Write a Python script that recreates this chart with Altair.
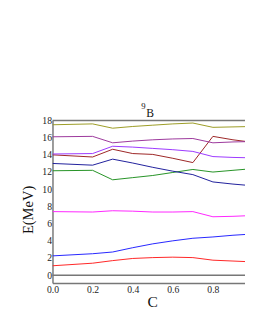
import altair as alt
import pandas as pd

c_vals = [0.0, 0.2, 0.3, 0.4, 0.5, 0.6, 0.7, 0.8, 0.9, 1.0]
series = {
    "red":     [1.1, 1.4, 1.7, 1.95, 2.05, 2.1, 2.05, 1.75, 1.65, 1.55],
    "blue":    [2.25, 2.5, 2.7, 3.2, 3.65, 4.0, 4.3, 4.45, 4.65, 4.8],
    "magenta": [7.4, 7.35, 7.5, 7.45, 7.35, 7.35, 7.4, 6.8, 6.85, 6.95],
    "green":   [12.15, 12.2, 11.1, 11.35, 11.6, 11.95, 12.3, 12.0, 12.2, 12.4],
    "navy":    [13.0, 12.8, 13.5, 13.05, 12.55, 12.1, 11.7, 10.85, 10.6, 10.4],
    "darkred": [14.0, 13.75, 14.65, 14.15, 14.05, 13.6, 13.1, 16.15, 15.75, 15.45],
    "violet":  [14.1, 14.15, 15.0, 14.9, 14.75, 14.6, 14.4, 13.8, 13.7, 13.65],
    "purple":  [16.1, 16.15, 15.4, 15.6, 15.75, 15.85, 15.9, 15.4, 15.5, 15.55],
    "olive":   [17.5, 17.6, 17.1, 17.3, 17.45, 17.6, 17.7, 17.2, 17.25, 17.3],
}
colors = {
    "red": "#ff2020", "blue": "#2020ff", "magenta": "#ff20ff",
    "green": "#209020", "navy": "#1a1a99", "darkred": "#992020",
    "violet": "#9933ff", "purple": "#993399", "olive": "#999920",
}
ref_lines = [0, 18]
x_ticks = [0.0, 0.2, 0.4, 0.6, 0.8]
y_ticks = [0, 2, 4, 6, 8, 10, 12, 14, 16, 18]
title_mass = "9"
title_elem = "B"

rows = []
for name, vals in series.items():
    for c, v in zip(c_vals, vals):
        rows.append({"C": c, "E": v, "level": name})
df = pd.DataFrame(rows)

xscale = alt.Scale(domain=[0, 0.96], nice=False, zero=False)
yscale = alt.Scale(domain=[-0.9, 18], nice=False, zero=False)

yaxis = alt.Axis(values=y_ticks, ticks=False, grid=False,
                 labelFont="Liberation Serif", labelFontSize=10, labelColor="#222",
                 labelPadding=1, labelFlush=False, labelOverlap=False,
                 domainColor="#777", domainWidth=1.5,
                 title="E(MeV)", titleFont="Liberation Serif", titleFontSize=15,
                 titleFontWeight="normal", titleColor="#111",
                 titleX=-26, titleY=92, titleAngle=-90,
                 titleBaseline="middle", titleAlign="center")

lines = alt.Chart(df).mark_line(strokeWidth=1, clip=True).encode(
    x=alt.X("C:Q", scale=xscale,
            axis=alt.Axis(values=x_ticks, format=".1f", ticks=False, grid=False,
                          labelFont="Liberation Serif", labelFontSize=10, labelColor="#222",
                          labelPadding=2, labelFlush=False, labelOverlap=False,
                          domainColor="#777", domainWidth=1.5,
                          title="C", titleFont="Liberation Serif", titleFontSize=16,
                          titleFontWeight="normal", titleColor="#111",
                          titleX=103, titleY=19, titleBaseline="middle", titleAlign="center")),
    y=alt.Y("E:Q", scale=yscale, axis=yaxis),
    color=alt.Color("level:N", scale=alt.Scale(domain=list(colors.keys()),
                                                range=list(colors.values())), legend=None),
    detail="level:N",
)

rules = alt.Chart(pd.DataFrame({"E": ref_lines})).mark_rule(color="#777", strokeWidth=1.5).encode(
    y=alt.Y("E:Q", scale=yscale, axis=yaxis)
)

sup = alt.Chart(pd.DataFrame({"t": [title_mass]})).mark_text(
    font="Liberation Serif", fontSize=9, color="#111", align="center", baseline="alphabetic"
).encode(text="t:N", x=alt.value(94), y=alt.value(-12))

elem = alt.Chart(pd.DataFrame({"t": [title_elem]})).mark_text(
    font="Liberation Serif", fontSize=12, color="#111", align="left", baseline="alphabetic"
).encode(text="t:N", x=alt.value(97), y=alt.value(-4))

chart = alt.layer(lines, rules, sup, elem).properties(
    width=199, height=168,
    autosize=alt.AutoSizeParams(type="none"),
    padding={"left": 46, "top": 111, "right": 0, "bottom": 32},
).configure_view(stroke=None)

chart.save("out.html", embed_options={"renderer": "svg", "actions": False})
